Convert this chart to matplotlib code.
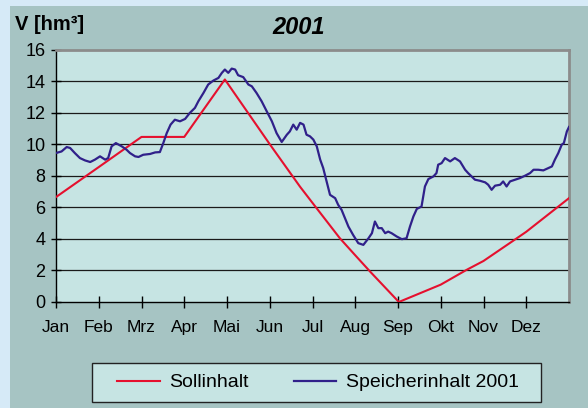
import matplotlib
matplotlib.use('Agg')
import matplotlib.pyplot as plt
from matplotlib.patches import Rectangle
from matplotlib.lines import Line2D

plt.rcParams['font.family'] = ['Liberation Sans', 'DejaVu Sans']

# ---------------- data ----------------
months = ['Jan', 'Feb', 'Mrz', 'Apr', 'Mai', 'Jun', 'Jul', 'Aug', 'Sep', 'Okt', 'Nov', 'Dez']
y_ticks = [0, 2, 4, 6, 8, 10, 12, 14, 16]

# position in months (0 = 1 Jan, 12 = 31 Dec)
soll_month = [0, 1, 2, 3, 3.95, 5, 5.71, 6, 6.64, 7, 7.35, 8.02, 9, 9.6, 10, 10.78, 11, 12]
soll_value = [6.65, 8.55, 10.46, 10.46, 14.1, 10.0, 7.3, 6.28, 4.04, 2.96, 1.92, 0.0,
              1.1, 2.03, 2.6, 4.04, 4.45, 6.58]

speicher_month = [
    0.00, 0.13, 0.25, 0.33, 0.44, 0.56, 0.68, 0.80, 0.91, 1.03, 1.15, 1.22, 1.30, 1.40,
    1.54, 1.65, 1.73, 1.85, 1.93, 2.04, 2.20, 2.32, 2.43, 2.51, 2.59, 2.68, 2.78, 2.90,
    3.02, 3.13, 3.25, 3.33, 3.45, 3.56, 3.68, 3.80, 3.88, 3.95, 4.03, 4.11, 4.19, 4.26,
    4.38, 4.50, 4.58, 4.69, 4.81, 4.93, 5.05, 5.16, 5.28, 5.40, 5.47, 5.55, 5.63, 5.71,
    5.79, 5.86, 5.94, 6.02, 6.10, 6.18, 6.25, 6.33, 6.41, 6.53, 6.60, 6.68, 6.76, 6.84,
    6.95, 7.07, 7.19, 7.31, 7.39, 7.46, 7.54, 7.62, 7.70, 7.77, 7.85, 7.97, 8.09, 8.20,
    8.28, 8.36, 8.44, 8.55, 8.63, 8.71, 8.83, 8.90, 8.94, 9.02, 9.10, 9.22, 9.33, 9.45,
    9.57, 9.64, 9.72, 9.80, 9.92, 10.04, 10.11, 10.19, 10.27, 10.39, 10.46, 10.54, 10.62,
    10.74, 10.85, 10.97, 11.09, 11.17, 11.28, 11.40, 11.52, 11.60, 11.67, 11.75, 11.83,
    11.88, 11.95, 12.00]
speicher_value = [
    9.44, 9.54, 9.82, 9.76, 9.44, 9.12, 8.97, 8.87, 9.02, 9.23, 9.02, 9.12, 9.86, 10.07,
    9.86, 9.65, 9.44, 9.23, 9.19, 9.33, 9.38, 9.48, 9.50, 10.07, 10.70, 11.24, 11.55, 11.45,
    11.60, 11.98, 12.30, 12.72, 13.25, 13.78, 14.03, 14.20, 14.52, 14.73, 14.52, 14.79, 14.73, 14.37,
    14.25, 13.78, 13.67, 13.25, 12.72, 12.08, 11.45, 10.70, 10.14, 10.60, 10.81, 11.24, 10.92, 11.35,
    11.24, 10.60, 10.50, 10.29, 9.86, 9.02, 8.49, 7.64, 6.79, 6.58, 6.16, 5.84, 5.31, 4.78,
    4.25, 3.73, 3.62, 4.04, 4.36, 5.10, 4.68, 4.68, 4.36, 4.46, 4.36, 4.15, 3.98, 4.04,
    4.78, 5.42, 5.90, 6.05, 7.32, 7.79, 7.96, 8.17, 8.70, 8.80, 9.12, 8.91, 9.12, 8.91,
    8.38, 8.17, 7.96, 7.75, 7.68, 7.58, 7.43, 7.11, 7.37, 7.43, 7.64, 7.32, 7.64,
    7.75, 7.85, 8.00, 8.17, 8.38, 8.38, 8.34, 8.49, 8.59, 9.02, 9.44, 9.97,
    10.07, 10.81, 11.09]

RED = '#e5102e'
BLUE = '#30208a'
PLOT_BG = '#c6e4e3'

W, H = 588, 408
fig = plt.figure(figsize=(W / 100, H / 100), dpi=100)
fig.patch.set_facecolor('#d6eaf7')
fig.patches.append(Rectangle((10 / W, 0), 1 - 10 / W, 1 - 6 / H, transform=fig.transFigure,
                             facecolor='#a6c4c3', edgecolor='none', zorder=-10))

ax = fig.add_axes([56 / W, 1 - 302 / H, (569 - 56) / W, (302 - 49.5) / H])
ax.set_facecolor(PLOT_BG)

ax.plot(soll_month, soll_value, color=RED, lw=1.5, zorder=3, label='Sollinhalt')
ax.plot(speicher_month, speicher_value, color=BLUE, lw=1.6, zorder=4,
        label='Speicherinhalt 2001')

ax.set_xlim(0, 12)
ax.set_ylim(0, 16)
ax.set_yticks(y_ticks)
ax.set_yticklabels([str(v) for v in y_ticks], fontsize=13)
ax.set_xticks(range(12))
ax.set_xticklabels(months, fontsize=12.5)
ax.tick_params(axis='y', direction='inout', length=7, width=1, pad=4, colors='black')
ax.tick_params(axis='x', direction='inout', length=8, width=1, pad=9, colors='black')

for v in y_ticks[1:-1]:
    ax.axhline(v, color='#1a1a1a', lw=0.9, zorder=1)

ax.spines['left'].set_color('black')
ax.spines['bottom'].set_color('black')
ax.spines['left'].set_linewidth(1.0)
ax.spines['bottom'].set_linewidth(1.0)
for s in ('top', 'right'):
    ax.spines[s].set_color('#8c8c8c')
    ax.spines[s].set_linewidth(2.0)

fig.text(15 / W, 1 - 24 / H, 'V [hm³]', fontsize=14.5, fontweight='bold', ha='left', va='center')
fig.text(299 / W, 1 - 27 / H, '2001', fontsize=17, fontweight='bold', fontstyle='italic',
         ha='center', va='center')

# legend
fig.patches.append(Rectangle((92 / W, 1 - 402 / H), 449 / W, 39 / H, transform=fig.transFigure,
                             facecolor=PLOT_BG, edgecolor='#222222', lw=1.0, zorder=1))
handles = [Line2D([], [], color=RED, lw=1.5), Line2D([], [], color=BLUE, lw=1.6)]
leg = fig.legend(handles, ['Sollinhalt', 'Speicherinhalt 2001'], loc='center',
                 bbox_to_anchor=(318 / W, 1 - 382.5 / H), ncol=2, frameon=False, fontsize=14,
                 handlelength=2.2, handletextpad=0.5, columnspacing=2.3)
leg.set_zorder(5)

fig.savefig('out.png', dpi=100, facecolor=fig.get_facecolor())
